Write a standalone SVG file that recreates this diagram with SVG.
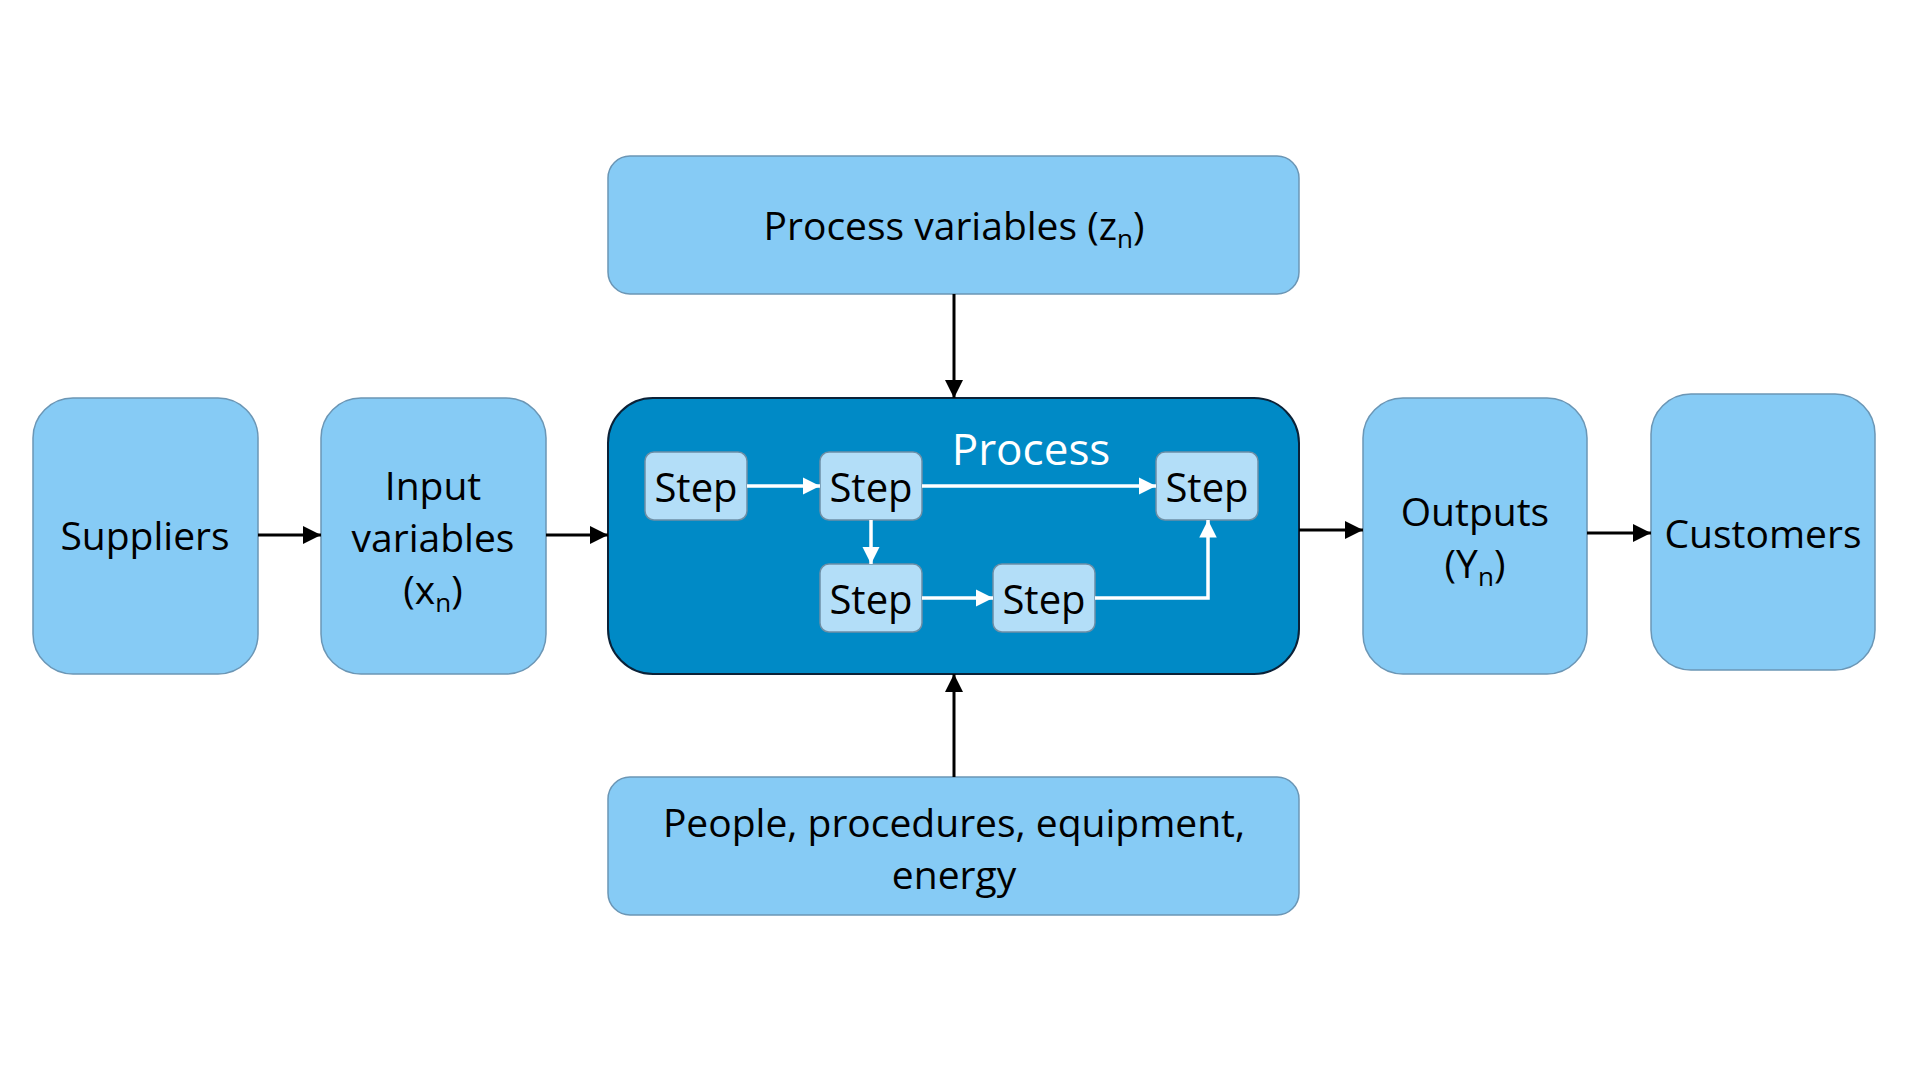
<svg xmlns="http://www.w3.org/2000/svg" width="1920" height="1080" viewBox="0 0 1920 1080">
<defs>
<style>
.box{fill:#86CBF5;stroke:#6B96B5;stroke-width:1.5}
.proc{fill:#008AC6;stroke:#0B2238;stroke-width:2}
.step{fill:#B3DEF8;stroke:#6E8FA6;stroke-width:1.5}
.t{font-family:"Open Sans","Noto Sans",sans-serif;font-size:39px;fill:#000;text-anchor:middle}
.st{font-family:"Open Sans","Noto Sans",sans-serif;font-size:40px;fill:#000;text-anchor:middle}
.pt{font-family:"Open Sans","Noto Sans",sans-serif;font-size:44px;fill:#fff;text-anchor:middle}
.sub{font-size:26px}
.blk{stroke:#000;stroke-width:3;fill:none}
.wht{stroke:#fff;stroke-width:3.5;fill:none}
</style>
<marker id="ab" viewBox="0 0 10 10" refX="10" refY="5" markerWidth="6" markerHeight="6" markerUnits="strokeWidth" orient="auto"><path d="M0,0 L10,5 L0,10 z" fill="#000"/></marker>
<marker id="aw" viewBox="0 0 10 10" refX="10" refY="5" markerWidth="5" markerHeight="5" markerUnits="strokeWidth" orient="auto"><path d="M0,0 L10,5 L0,10 z" fill="#fff"/></marker>
</defs>
<rect width="1920" height="1080" fill="#fff"/>
<g id="top"><rect class="box" x="608" y="156" width="691" height="138" rx="22"/><text class="t" x="954" y="240">Process variables (z<tspan class="sub" dy="8">n</tspan><tspan dy="-8">)</tspan></text></g>
<g id="suppliers"><rect class="box" x="33" y="398" width="225" height="276" rx="40"/><text class="t" x="145" y="550">Suppliers</text></g>
<g id="input"><rect class="box" x="321" y="398" width="225" height="276" rx="40"/><text class="t" x="433" y="500">Input</text><text class="t" x="433" y="552">variables</text><text class="t" x="433" y="604">(x<tspan class="sub" dy="8">n</tspan><tspan dy="-8">)</tspan></text></g>
<g id="process"><rect class="proc" x="608" y="398" width="691" height="276" rx="45"/><text class="pt" x="1031" y="465">Process</text></g>
<g id="step1"><rect class="step" x="645" y="452" width="102" height="68" rx="9"/><text class="st" x="696" y="502">Step</text></g>
<g id="step2"><rect class="step" x="820" y="452" width="102" height="68" rx="9"/><text class="st" x="871" y="502">Step</text></g>
<g id="step3"><rect class="step" x="1156" y="452" width="102" height="68" rx="9"/><text class="st" x="1207" y="502">Step</text></g>
<g id="step4"><rect class="step" x="820" y="564" width="102" height="68" rx="9"/><text class="st" x="871" y="614">Step</text></g>
<g id="step5"><rect class="step" x="993" y="564" width="102" height="68" rx="9"/><text class="st" x="1044" y="614">Step</text></g>
<g id="outputs"><rect class="box" x="1363" y="398" width="224" height="276" rx="40"/><text class="t" x="1475" y="526">Outputs</text><text class="t" x="1475" y="578">(Y<tspan class="sub" dy="8">n</tspan><tspan dy="-8">)</tspan></text></g>
<g id="customers"><rect class="box" x="1651" y="394" width="224" height="276" rx="40"/><text class="t" x="1763" y="548">Customers</text></g>
<g id="resources"><rect class="box" x="608" y="777" width="691" height="138" rx="22"/><text class="t" x="954" y="837">People, procedures, equipment,</text><text class="t" x="954" y="889">energy</text></g>
<g id="connectors">
<path class="blk" d="M258,535 H321" marker-end="url(#ab)"/>
<path class="blk" d="M546,535 H608" marker-end="url(#ab)"/>
<path class="blk" d="M1299,530 H1363" marker-end="url(#ab)"/>
<path class="blk" d="M1587,533 H1651" marker-end="url(#ab)"/>
<path class="blk" d="M954,294 V398" marker-end="url(#ab)"/>
<path class="blk" d="M954,777 V674" marker-end="url(#ab)"/>
<path class="wht" d="M747,486 H820" marker-end="url(#aw)"/>
<path class="wht" d="M922,486 H1156" marker-end="url(#aw)"/>
<path class="wht" d="M871,520 V564" marker-end="url(#aw)"/>
<path class="wht" d="M922,598 H993" marker-end="url(#aw)"/>
<path class="wht" d="M1095,598 H1208 V520" marker-end="url(#aw)"/>
</g>
</svg>
